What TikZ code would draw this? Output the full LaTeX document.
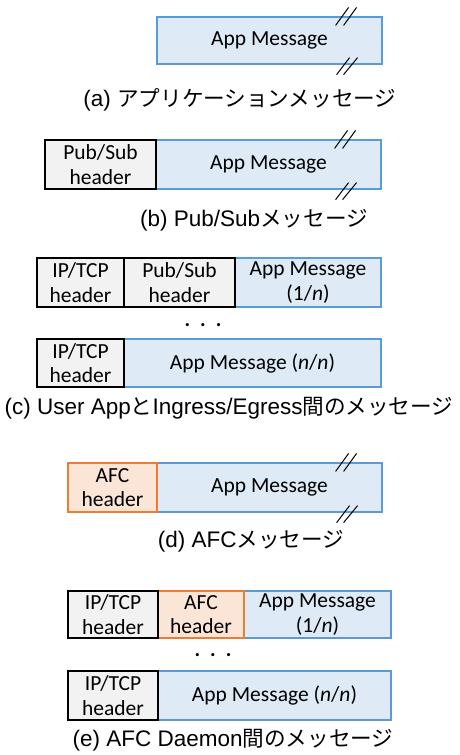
\documentclass[tikz,border=0pt]{standalone}
\usepackage{fontspec}
\setmainfont{Carlito}
\newfontfamily\capfont{Liberation Sans}
\newfontfamily\jpfont[Scale=0.96]{Noto Sans CJK JP}
\usetikzlibrary{calc}
\definecolor{appfill}{HTML}{DEEBF7}
\definecolor{appdraw}{HTML}{5B9BD5}
\definecolor{grayfill}{HTML}{F2F2F2}
\definecolor{afcfill}{HTML}{FBE5D6}
\definecolor{afcdraw}{HTML}{ED7D31}
\newcommand\jptext[1]{{\jpfont #1}}
\newcommand\brkmarks[1]{%
  \draw[brk] ($(#1.north east)+(-47,9)$) -- ($(#1.north east)+(-34,-9)$);
  \draw[brk] ($(#1.north east)+(-39,9)$) -- ($(#1.north east)+(-26,-9)$);
  \draw[brk] ($(#1.south east)+(-46,10)$) -- ($(#1.south east)+(-33,-7)$);
  \draw[brk] ($(#1.south east)+(-39,10)$) -- ($(#1.south east)+(-25,-7)$);}
\begin{document}
\begin{tikzpicture}[x=1pt,y=-1pt,
  field/.style={rectangle, inner sep=0pt, align=center, line width=1.2pt,
    font=\fontsize{21.5}{24.5}\selectfont},
  app/.style={field, fill=appfill, draw=appdraw},
  hdr/.style={field, fill=grayfill, draw=black},
  afc/.style={field, fill=afcfill, draw=afcdraw},
  captxt/.style={inner sep=0pt, font=\capfont\fontsize{22.5}{26}\selectfont},
  dotrow/.style={inner sep=0pt, font=\fontsize{21}{24}\selectfont\bfseries},
  brk/.style={line width=1pt, black}]
\useasboundingbox (0,0) rectangle (459,755);
% (a)
\node[app, minimum width=225pt, minimum height=47pt] (a1) at (269.5,40.5) {App Message};
\brkmarks{a1}
\node[captxt] (acap) at (240,100) {(a) \jptext{アプリケーションメッセージ}};
% (b)
\node[app, minimum width=225pt, minimum height=49pt] (b2) at (268.5,164.5) {App Message};
\node[hdr, minimum width=111pt, minimum height=49pt] (b1) at (100.5,164.5) {Pub/Sub\\header};
\brkmarks{b2}
\node[captxt] (bcap) at (254,220) {(b) Pub/Sub\jptext{メッセージ}};
% (c)
\node[app, minimum width=146pt, minimum height=49pt] (c3) at (308,282.5) {App Message\\(1/\textit{n})};
\node[hdr, minimum width=111pt, minimum height=49pt] (c2) at (179.5,282.5) {Pub/Sub\\header};
\node[hdr, minimum width=87pt, minimum height=49pt] (c1) at (80.5,282.5) {IP/TCP\\header};
\node[dotrow] (cd) at (203,325) {.\hspace{10pt}.\hspace{10pt}.};
\node[app, minimum width=257pt, minimum height=48pt] (c5) at (252.5,363) {App Message (\textit{n}/\textit{n})};
\node[hdr, minimum width=87pt, minimum height=48pt] (c4) at (80.5,363) {IP/TCP\\header};
\node[captxt] (ccap) at (229,408) {(c) User App\jptext{と}Ingress/Egress\jptext{間のメッセージ}};
% (d)
\node[app, minimum width=225pt, minimum height=49pt] (d2) at (269.5,487.5) {App Message};
\node[afc, minimum width=89pt, minimum height=49pt] (d1) at (112.5,487.5) {AFC\\header};
\brkmarks{d2}
\node[captxt] (dcap) at (251,541) {(d) AFC\jptext{メッセージ}};
% (e)
\node[app, minimum width=147pt, minimum height=47pt] (e3) at (317.5,614.5) {App Message\\(1/\textit{n})};
\node[afc, minimum width=86pt, minimum height=47pt] (e2) at (201,614.5) {AFC\\header};
\node[hdr, minimum width=90pt, minimum height=47pt] (e1) at (113,614.5) {IP/TCP\\header};
\node[dotrow] (ed) at (213,655) {.\hspace{10pt}.\hspace{10pt}.};
\node[app, minimum width=233pt, minimum height=49pt] (e5) at (274.5,695.5) {App Message (\textit{n}/\textit{n})};
\node[hdr, minimum width=90pt, minimum height=49pt] (e4) at (113,695.5) {IP/TCP\\header};
\node[captxt] (ecap) at (233,740) {(e) AFC Daemon\jptext{間のメッセージ}};
\end{tikzpicture}
\end{document}
